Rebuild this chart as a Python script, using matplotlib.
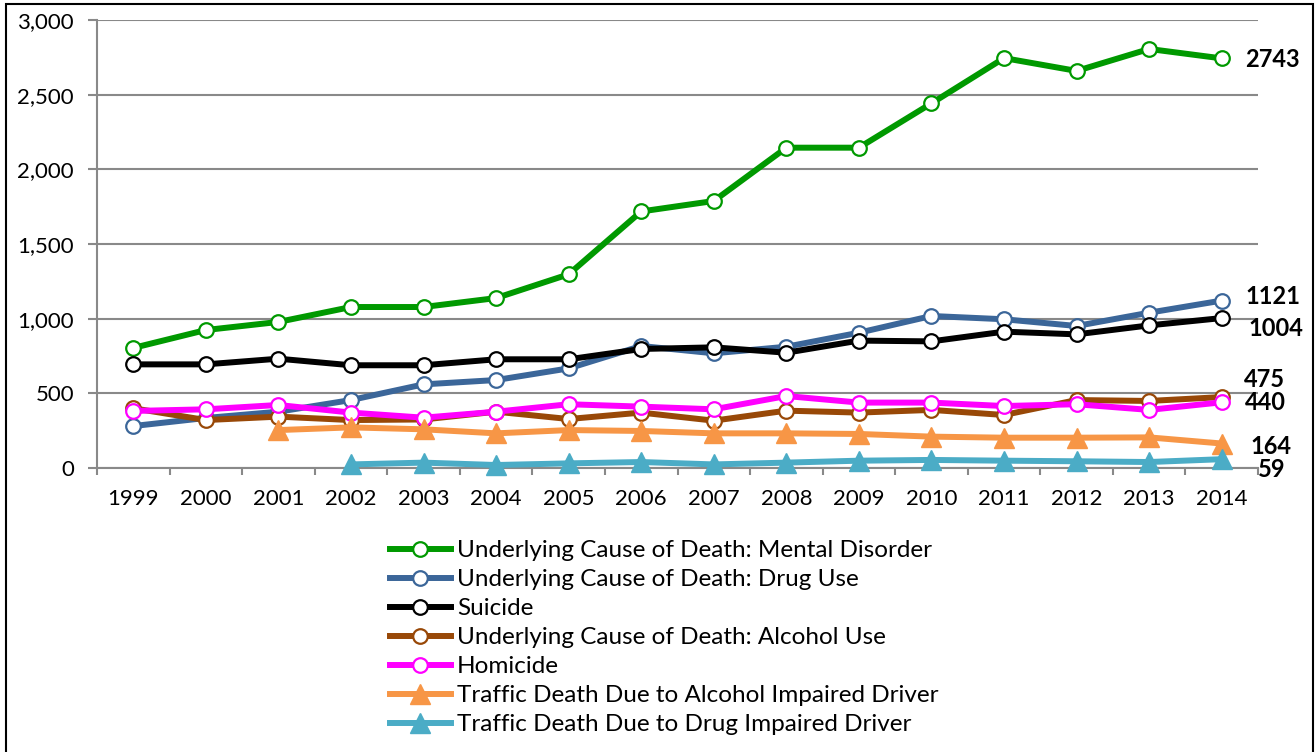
import matplotlib
matplotlib.use("Agg")
import matplotlib.pyplot as plt
from matplotlib.patches import Rectangle
from matplotlib.ticker import FuncFormatter, FixedLocator

plt.rcParams['font.family'] = ['Lato', 'DejaVu Sans']

years = [str(y) for y in range(1999, 2015)]

mental_disorder = [804, 924, 978, 1078, 1078, 1138, 1297, 1718, 1788, 2145, 2145, 2442, 2745, 2659, 2806, 2743]
drug_use = [281, 335, 377, 455, 560, 589, 667, 817, 768, 812, 906, 1018, 996, 951, 1040, 1121]
suicide = [694, 694, 732, 688, 688, 728, 728, 797, 808, 772, 853, 848, 913, 895, 955, 1004]
alcohol_use = [400, 321, 344, 321, 325, 377, 328, 371, 317, 384, 371, 389, 355, 455, 449, 475]
homicide = [382, 393, 422, 371, 337, 377, 427, 411, 393, 482, 438, 438, 415, 427, 389, 440]
# traffic series start later than 1999
traffic_alcohol = [None, None, 254, 272, 259, 232, 254, 248, 232, 232, 228, 210, 203, 203, 205, 164]
traffic_drug = [None, None, None, 24, 36, 20, 31, 40, 24, 36, 49, 54, 49, 45, 40, 59]

series = [
    ("Underlying Cause of Death: Mental Disorder", mental_disorder, "#009900", "o"),
    ("Underlying Cause of Death: Drug Use", drug_use, "#3B6699", "o"),
    ("Suicide", suicide, "#000000", "o"),
    ("Underlying Cause of Death: Alcohol Use", alcohol_use, "#984807", "o"),
    ("Homicide", homicide, "#FF00FF", "o"),
    ("Traffic Death Due to Alcohol Impaired Driver", traffic_alcohol, "#F79646", "^"),
    ("Traffic Death Due to Drug Impaired Driver", traffic_drug, "#4BACC6", "^"),
]

# end-of-line labels: (value, x offset pt, y offset pt)
end_labels = [
    (mental_disorder[-1], 17, -0.7),
    (drug_use[-1], 17, 3.3),
    (suicide[-1], 19.5, -7.2),
    (alcohol_use[-1], 16, 13),
    (homicide[-1], 17, -0.5),
    (traffic_alcohol[-1], 21, -1.8),
    (traffic_drug[-1], 26, -7.2),
]

fig = plt.figure(figsize=(13.16, 7.52), dpi=100)
ax = fig.add_axes([97 / 1316, 1 - 468 / 752, 1161 / 1316, 448 / 752])

grid_col = "#898989"
x = list(range(len(years)))
for name, vals, col, mk in series:
    xs = [i for i, v in zip(x, vals) if v is not None]
    ys = [v for v in vals if v is not None]
    if mk == "o":
        ax.plot(xs, ys, color=col, lw=4.3, marker="o", ms=10.5, mfc="white",
                mec=col, mew=1.6, label=name, clip_on=False, zorder=3)
    else:
        ax.plot(xs, ys, color=col, lw=4.3, marker="^", ms=15, mfc=col,
                mec=col, label=name, clip_on=False, zorder=3)

for (val, dx, dy) in end_labels:
    ax.annotate(f"{val}", xy=(15, val), xytext=(dx, dy), textcoords="offset points",
                ha="left", va="center", fontsize=17, fontweight="bold",
                annotation_clip=False)

ax.set_xlim(-0.5, 15.5)
ax.set_ylim(0, 3000)
ax.set_yticks(range(0, 3001, 500))
ax.yaxis.set_major_formatter(FuncFormatter(lambda v, p: f"{int(v):,}"))
ax.set_xticks(x)
ax.set_xticklabels(years)
ax.xaxis.set_minor_locator(FixedLocator([i - 0.5 for i in range(17)]))
ax.tick_params(axis="x", which="major", length=0, labelsize=16, pad=15)
ax.tick_params(axis="x", which="minor", length=5, width=1.5, color=grid_col)
ax.tick_params(axis="y", length=6.5, width=1.5, color=grid_col, labelsize=16, pad=10)

ax.grid(axis="y", color=grid_col, lw=1.5)
ax.set_axisbelow(True)
for side in ("top", "right"):
    ax.spines[side].set_visible(False)
for side in ("left", "bottom"):
    ax.spines[side].set_color(grid_col)
    ax.spines[side].set_linewidth(1.5)

handles, labels = ax.get_legend_handles_labels()
fig.legend(handles, labels, loc="upper left", bbox_to_anchor=(390 / 1316, 1 - 540 / 752),
           frameon=False, fontsize=17.5, handlelength=2.5, handletextpad=0.25,
           labelspacing=0.33, borderpad=0, borderaxespad=0)

# outer frame
fig.patches.append(Rectangle((6 / 1316, -0.01), 1307 / 1316, 1.01 - 4 / 752,
                             transform=fig.transFigure, fill=False,
                             edgecolor="black", lw=1.5))

fig.savefig("out.png", dpi=100)
